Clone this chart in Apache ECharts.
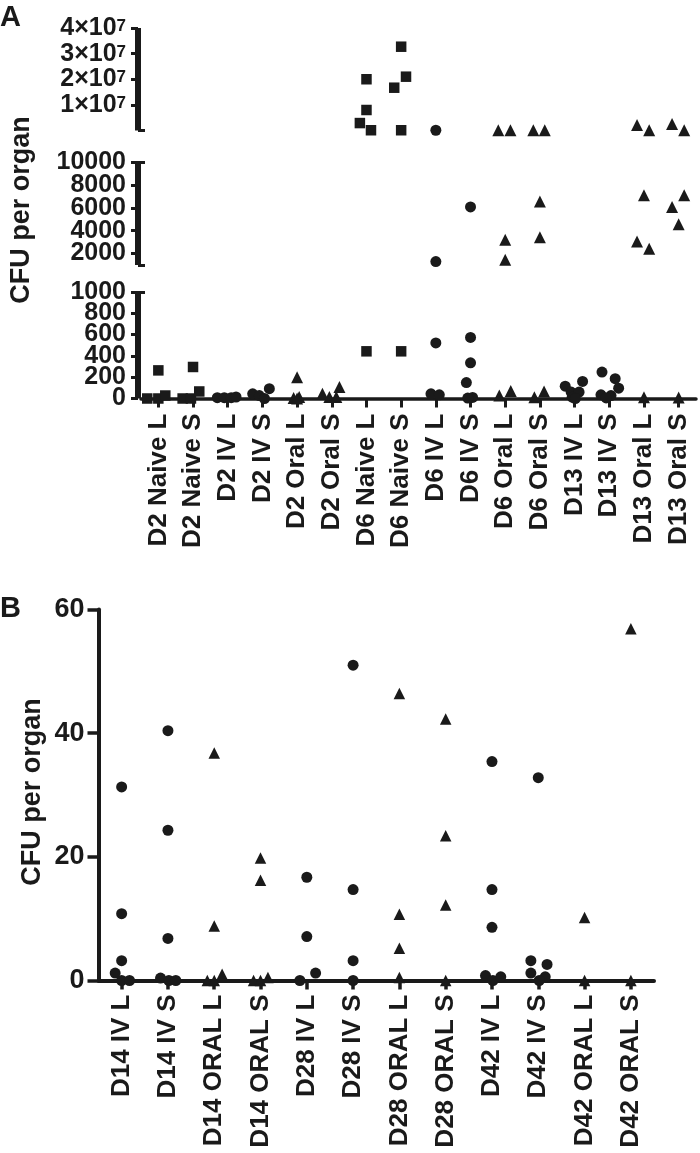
<!DOCTYPE html>
<html>
<head>
<meta charset="utf-8">
<script src="https://cdn.jsdelivr.net/npm/echarts@6/dist/echarts.min.js"></script>
<style>
  html, body { margin: 0; padding: 0; background: #fff; }
  #chart { width: 700px; height: 1153px; }
</style>
</head>
<body>
<div id="chart"></div>
<script>
// ---------------- DATA ----------------
const catsA = ['D2 Naive L','D2 Naive S','D2 IV L','D2 IV S','D2 Oral L','D2 Oral S',
               'D6 Naive L','D6 Naive S','D6 IV L','D6 IV S','D6 Oral L','D6 Oral S',
               'D13 IV L','D13 IV S','D13 Oral L','D13 Oral S'];
// each point: [category index, horizontal scatter within category (category widths), CFU per organ]
const squaresA = [
  [0,0,264],[0,-0.32,0],[0,0,0],[0,0.2,28],
  [1,0,296],[1,-0.3,0],[1,-0.06,0],[1,0.18,66],
  [6,0,2.0e7],[6,0,8.0e6],[6,-0.19,2.9e6],[6,0.13,1e5],[6,0,443],
  [7,0,3.27e7],[7,0.14,2.1e7],[7,-0.2,1.67e7],[7,0,1e5],[7,0,443]
];
const circlesA = [
  [2,-0.3,8],[2,-0.1,8],[2,0.1,8],[2,0.24,14],
  [3,-0.28,44],[3,-0.09,28],[3,0.06,0],[3,0.2,92],
  [8,0,1e5],[8,0,1300],[8,0,522],[8,-0.14,44],[8,0.1,35],
  [9,0,6070],[9,0,573],[9,0,335],[9,-0.12,150],[9,0.06,10],[9,-0.08,4],
  [12,-0.27,116],[12,0.23,160],[12,-0.1,60],[12,0.13,60],[12,-0.07,12],[12,0.02,0],
  [13,-0.21,248],[13,0.17,186],[13,0.27,97],[13,-0.24,35],[13,0.05,28],[13,-0.09,5]
];
const trianglesA = [
  [4,0,200],[4,-0.1,5],[4,0.06,15],[4,0,0],
  [5,-0.27,44],[5,-0.07,15],[5,0.13,15],[5,0.22,107],
  [10,-0.2,1e5],[10,0.15,1e5],[10,0,3200],[10,0,1450],[10,-0.17,28],[10,0.16,70],
  [11,-0.19,1e5],[11,0.14,1e5],[11,0,6550],[11,0,3430],[11,-0.16,12],[11,0.12,66],
  [14,-0.2,2.1e6],[14,0.15,1e5],[14,0,7100],[14,-0.2,3050],[14,0.15,2410],[14,0,12],
  [15,-0.19,2.5e6],[15,0.16,1e5],[15,0.16,7100],[15,-0.19,6070],[15,0,4550],[15,0,10]
];
// broken y axis segments of panel A: [min, max]
const segTop = [0, 4e7];
const segMid = [1000, 10000];
const segBot = [0, 1000];
const ticksTop = [1e7, 2e7, 3e7, 4e7];
const ticksMid = [2000, 4000, 6000, 8000, 10000];
const ticksBot = [0, 200, 400, 600, 800, 1000];

const catsB = ['D14 IV L','D14 IV S','D14 ORAL L','D14 ORAL S','D28 IV L','D28 IV S',
               'D28 ORAL L','D28 ORAL S','D42 IV L','D42 IV S','D42 ORAL L','D42 ORAL S'];
const circlesB = [
  [0,0,31.3],[0,0,10.8],[0,0,3.2],[0,-0.14,1.2],[0,0,0],[0,0.17,0],
  [1,0,40.4],[1,0,24.3],[1,0,6.8],[1,-0.16,0.4],[1,0.02,0],[1,0.17,0],
  [4,0,16.7],[4,0,7.1],[4,0.19,1.2],[4,-0.15,0],
  [5,0,51],[5,0,14.7],[5,0,3.2],[5,0,0],
  [8,0,35.4],[8,0,14.7],[8,0,8.6],[8,-0.14,0.8],[8,0.02,0],[8,0.19,0.6],
  [9,0,32.8],[9,-0.16,3.2],[9,0.19,2.6],[9,-0.16,1.2],[9,0.15,0.6],[9,0.02,0]
];
const trianglesB = [
  [2,0,36.8],[2,0,8.8],[2,-0.15,0],[2,0,0],[2,0.17,1],
  [3,0,19.8],[3,0,16.2],[3,-0.15,0],[3,0,0],[3,0.16,0.5],
  [6,0,46.4],[6,0,10.7],[6,0,5.2],[6,0,0.5],
  [7,0,42.3],[7,0,23.4],[7,0,12.2],[7,0,0],
  [10,0,10.2],[10,0,0],
  [11,0,56.9],[11,0,0]
];
const ticksB = [0, 20, 40, 60];

// ---------------- CHART ----------------
const FONT = "'Liberation Sans', Arial, Helvetica, sans-serif";
const INK = '#1a1a1a';
const chart = echarts.init(document.getElementById('chart'), null, {renderer: 'canvas'});

function seg(points, lo, hi) {
  return points.filter(p => p[2] > lo && p[2] <= hi).map(p => [p[0] + p[1], p[2]]);
}
// split tick list into alternating halves so neighbouring labels sit on different axes
const evens = a => a.filter((_, i) => i % 2 === 0);
const odds = a => a.filter((_, i) => i % 2 === 1);

const gridsA = [
  {left: 141, right: 4, top: 28, height: 102.5},
  {left: 141, right: 4, top: 162, height: 103},
  {left: 141, right: 4, top: 292, height: 106.5}
];
const gridB = {left: 98.5, right: 46, top: 609.5, height: 371};

const hiddenX = (gi, n) => ({type: 'value', gridIndex: gi, min: -0.5, max: n - 0.5, show: false});
const labelBase = {color: INK, fontFamily: FONT, fontWeight: 'bold', showMinLabel: true, showMaxLabel: true};

const yMainA = (gi, mn, mx, ticks, labels, labelExtra) => ({
  type: 'value', gridIndex: gi, min: mn, max: mx, offset: 3, position: 'left',
  axisLine: {show: true, onZero: false, lineStyle: {color: INK, width: 6, cap: 'butt'}},
  axisTick: {show: true, length: 7, customValues: ticks, lineStyle: {color: INK, width: 3}},
  axisLabel: Object.assign({fontSize: 25, margin: 12, customValues: labels, formatter: v => String(v)}, labelBase, labelExtra || {}),
  splitLine: {show: false}
});

const labelOnlyA = (gi, mn, mx, labels) => ({
  type: 'value', gridIndex: gi, min: mn, max: mx, offset: 3, position: 'left',
  axisLine: {show: false, onZero: false}, axisTick: {show: false}, splitLine: {show: false},
  axisLabel: Object.assign({fontSize: 25, margin: 12, customValues: labels, formatter: v => String(v)}, labelBase)
});

const footAxis = (gi, mn, mx, vals) => ({
  type: 'value', gridIndex: gi, min: mn, max: mx, offset: 3, position: 'left',
  axisLine: {show: false, onZero: false}, axisLabel: {show: false}, splitLine: {show: false},
  axisTick: {show: true, inside: true, length: 7, customValues: vals, lineStyle: {color: INK, width: 3}}
});

const series = [];
const segRanges = [[10000, Infinity], [1000, 10000], [-Infinity, 1000]];
segRanges.forEach((r, gi) => {
  [[squaresA, 'rect', 10.5], [circlesA, 'circle', 11], [trianglesA, 'triangle', 12]].forEach(([pts, sym, sz]) => {
    series.push({
      type: 'scatter', xAxisIndex: gi, yAxisIndex: gi, symbol: sym, symbolSize: sz, clip: false,
      itemStyle: {color: INK, opacity: 1}, data: seg(pts, r[0], r[1]), z: 3
    });
  });
});
[[circlesB, 'circle', 11], [trianglesB, 'triangle', 11.5]].forEach(([pts, sym, sz]) => {
  series.push({
    type: 'scatter', xAxisIndex: 4, yAxisIndex: 3, symbol: sym, symbolSize: sz, clip: false,
    itemStyle: {color: INK, opacity: 1}, data: seg(pts, -Infinity, Infinity), z: 3
  });
});

const option = {
  animation: false,
  backgroundColor: '#fff',
  grid: gridsA.concat([gridB]),
  xAxis: [
    hiddenX(0, catsA.length),
    hiddenX(1, catsA.length),
    hiddenX(2, catsA.length),
    {
      type: 'category', gridIndex: 2, data: catsA, position: 'bottom', boundaryGap: true,
      axisLine: {show: true, onZero: false, lineStyle: {color: INK, width: 3.5}},
      axisTick: {show: true, alignWithLabel: true, length: 9, lineStyle: {color: INK, width: 3}},
      axisLabel: Object.assign({}, labelBase, {interval: 0, rotate: 90, fontSize: 26, margin: 15}),
      splitLine: {show: false}
    },
    hiddenX(3, catsB.length),
    {
      type: 'category', gridIndex: 3, data: catsB, position: 'bottom', boundaryGap: true,
      axisLine: {show: true, onZero: false, lineStyle: {color: INK, width: 4}},
      axisTick: {show: true, alignWithLabel: true, length: 9, lineStyle: {color: INK, width: 3.5}},
      axisLabel: Object.assign({}, labelBase, {interval: 0, rotate: 90, fontSize: 26, margin: 14}),
      splitLine: {show: false}
    }
  ],
  yAxis: [
    yMainA(0, segTop[0], segTop[1], ticksTop, ticksTop, {
      formatter: v => '{m|' + Math.round(v / 1e7) + '×10}{s|7}',
      rich: {
        m: {fontSize: 25, fontWeight: 'bold', fontFamily: FONT, color: INK, lineHeight: 20},
        s: {fontSize: 17, fontWeight: 'bold', fontFamily: FONT, color: INK, verticalAlign: 'top', lineHeight: 14}
      }
    }),
    yMainA(1, segMid[0], segMid[1], ticksMid, evens(ticksMid)),
    yMainA(2, segBot[0], segBot[1], ticksBot, evens(ticksBot)),
    {
      type: 'value', gridIndex: 3, min: ticksB[0], max: ticksB[ticksB.length - 1], position: 'left',
      axisLine: {show: true, onZero: false, lineStyle: {color: INK, width: 4}},
      axisTick: {show: true, length: 11, customValues: ticksB, lineStyle: {color: INK, width: 3.5}},
      axisLabel: Object.assign({fontSize: 27, margin: 14, customValues: ticksB, formatter: v => String(v)}, labelBase),
      splitLine: {show: false}
    },
    footAxis(0, segTop[0], segTop[1], [segTop[0]]),
    footAxis(1, segMid[0], segMid[1], [segMid[0], segMid[1]]),
    footAxis(2, segBot[0], segBot[1], [segBot[1]]),
    labelOnlyA(1, segMid[0], segMid[1], odds(ticksMid)),
    labelOnlyA(2, segBot[0], segBot[1], odds(ticksBot))
  ],
  graphic: [
    {type: 'text', left: 0, top: 3, style: {text: 'A', font: 'bold 29px ' + FONT, fill: INK}},
    {type: 'text', left: 0, top: 594, style: {text: 'B', font: 'bold 29px ' + FONT, fill: INK}},
    {type: 'text', x: 22, y: 210, rotation: Math.PI / 2,
     style: {text: 'CFU per organ', font: 'bold 27px ' + FONT, fill: INK, align: 'center', verticalAlign: 'middle'}},
    {type: 'text', x: 33, y: 792, rotation: Math.PI / 2,
     style: {text: 'CFU per organ', font: 'bold 27px ' + FONT, fill: INK, align: 'center', verticalAlign: 'middle'}}
  ],
  series: series
};
chart.setOption(option);
</script>
</body>
</html>
